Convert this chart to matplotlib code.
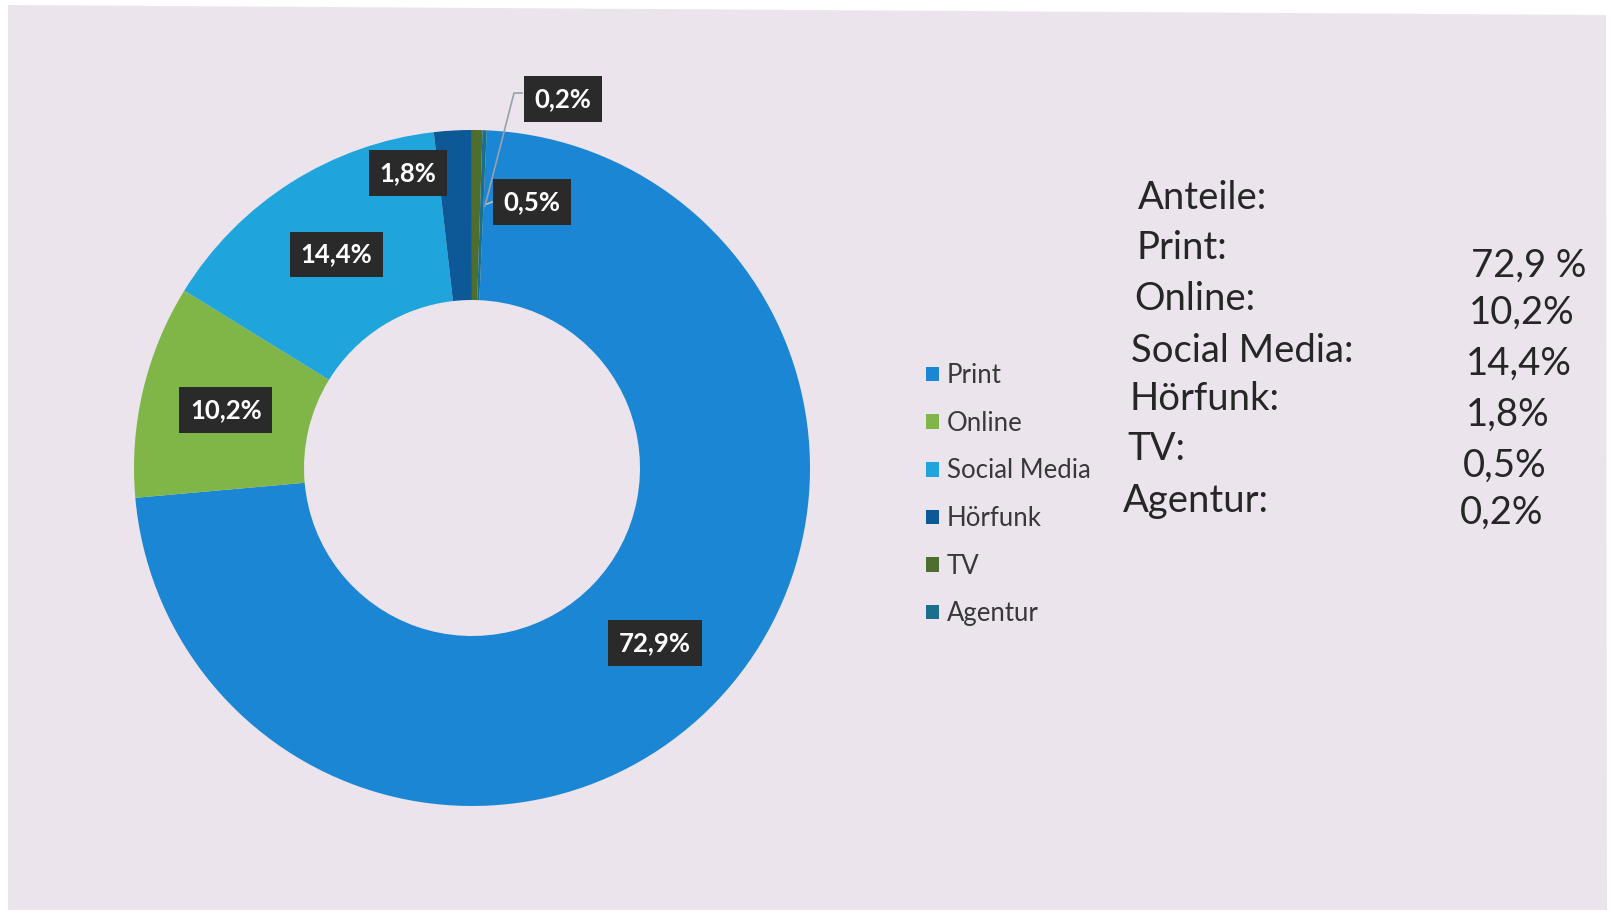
import matplotlib
matplotlib.use("Agg")
import matplotlib.pyplot as plt
from matplotlib.patches import Polygon
import numpy as np

plt.rcParams['font.family'] = ['Lato', 'DejaVu Sans']

# Shares by media type (percent)
categories = ["Print", "Online", "Social Media", "Hörfunk", "TV", "Agentur"]
shares = [72.9, 10.2, 14.4, 1.8, 0.5, 0.2]
value_labels = ["72,9%", "10,2%", "14,4%", "1,8%", "0,5%", "0,2%"]
colors = ["#1b86d3", "#80b547", "#1fa5dc", "#0d5896", "#4d6e2c", "#1a6f8c"]

# Side table text
table_title = "Anteile:"
table_names = ["Print:", "Online:", "Social Media:", "Hörfunk:", "TV:", "Agentur:"]
table_values = ["72,9 %", "10,2%", "14,4%", "1,8%", "0,5%", "0,2%"]

W, H = 1619, 913
fig = plt.figure(figsize=(W / 100, H / 100), dpi=100)
fig.patch.set_facecolor("white")

ax = fig.add_axes([0, 0, 1, 1])

# paper background
ax.add_patch(Polygon([(8, 5), (1606, 15), (1607, 910), (8, 910)],
                     closed=True, fc="#ebe4ed", ec="none", zorder=0))

# donut in pixel coordinates (y axis points down, so angles run clockwise)
cx, cy = 472, 468
r_out, r_in = 338, 168
wedges, _ = ax.pie(shares, colors=colors, startangle=-87.5, counterclock=True,
                   radius=r_out, center=(cx, cy), frame=True,
                   wedgeprops=dict(width=r_out - r_in, linewidth=0))
ax.set_xlim(0, W)
ax.set_ylim(H, 0)
ax.set_aspect("auto")
ax.axis("off")

box = dict(boxstyle="square,pad=0.42", fc="#2a2a2a", ec="none")
lab_kw = dict(color="white", fontsize=18.5, fontweight="bold",
              ha="center", va="center", bbox=box, zorder=5)

r_mid = (r_out + r_in) / 2
for i in range(3):
    w = wedges[i]
    ang = np.deg2rad((w.theta1 + w.theta2) / 2)
    x = cx + r_mid * np.cos(ang)
    y = cy + r_mid * np.sin(ang)
    ax.text(x, y, value_labels[i], **lab_kw)

# small slices: labels moved outward with leader lines
ax.text(408, 173, value_labels[3], **lab_kw)
ax.text(532, 202, value_labels[4], **lab_kw)
ax.text(563, 99, value_labels[5], **lab_kw)
ax.plot([497, 487], [200, 204], color="#b8bfc8", lw=1.2, zorder=4)
ax.plot([522, 514, 485], [93, 93, 206], color="#9aa0a8", lw=1.2, zorder=4)

# legend
leg = ax.legend(wedges, categories, loc="upper left",
                bbox_to_anchor=(903 / W, 1 - 340 / H), frameon=False,
                fontsize=18.5, handlelength=0.5, handleheight=0.5,
                handletextpad=0.3, labelspacing=0.88, labelcolor="#383838")

# side table
txt_kw = dict(fontsize=27.5, color="#262626", va="center", ha="left")
ax.text(1138, 198, table_title, **txt_kw)
name_x = [1136, 1134, 1131, 1129, 1127, 1123]
name_y = [248, 299, 351, 399, 449, 501]
val_x = [1471, 1469, 1466, 1466, 1463, 1460]
val_y = [266, 313, 364, 415, 466, 513]
for n, v, nx, ny, vx, vy in zip(table_names, table_values, name_x, name_y, val_x, val_y):
    ax.text(nx, ny, n, **txt_kw)
    ax.text(vx, vy, v, **txt_kw)

fig.savefig("out.png", dpi=100, facecolor=fig.get_facecolor())
